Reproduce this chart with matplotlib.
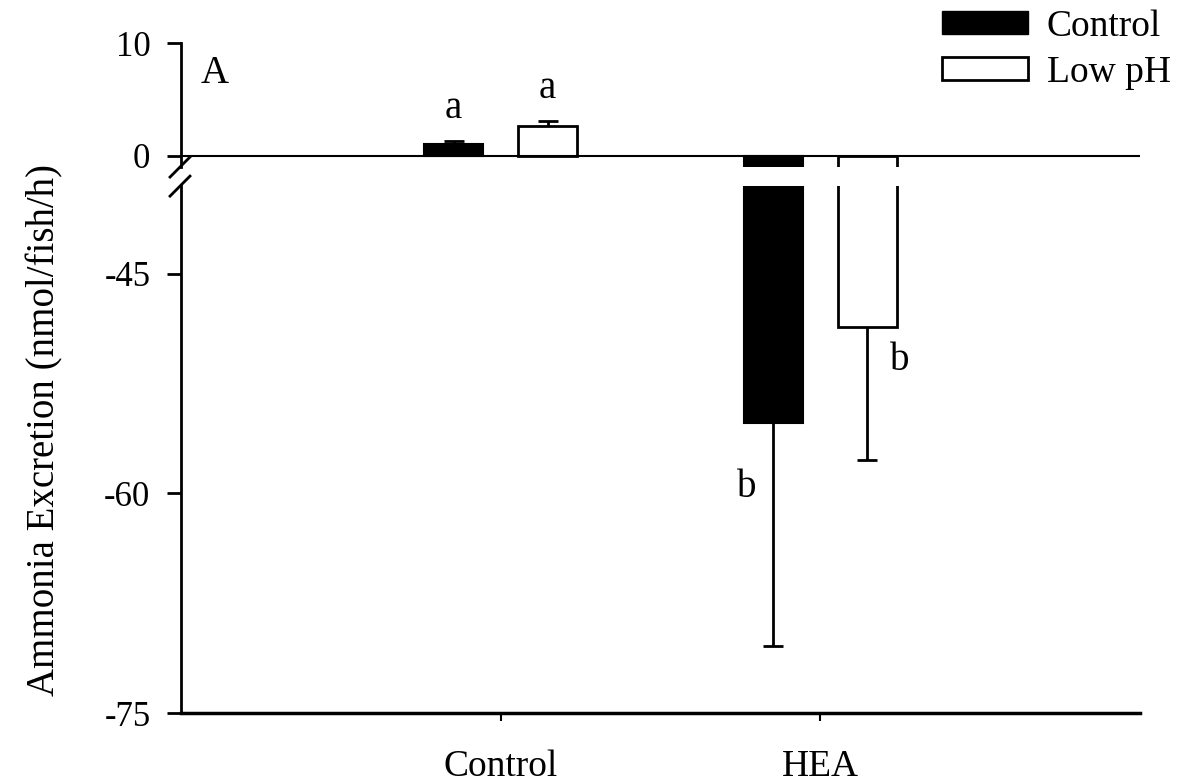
import matplotlib
matplotlib.use("Agg")
import matplotlib.pyplot as plt
from matplotlib.patches import Patch
import numpy as np

plt.rcParams['font.family'] = ['Liberation Serif', 'DejaVu Serif']
plt.rcParams['axes.unicode_minus'] = False

# data
groups = ['Control', 'HEA']
control_vals = [1.0, -55.2]
control_err = [0.3, 15.2]
lowph_vals = [2.65, -48.6]
lowph_err = [0.45, 9.1]
control_letters = ['a', 'b']
lowph_letters = ['a', 'b']

x = np.array([1, 2])
w = 0.186
off = 0.147

fig = plt.figure(figsize=(11.8, 7.82), dpi=100)
ax_top = fig.add_axes([0.1534, 0.7864, 0.8126, 0.1586])
ax_bot = fig.add_axes([0.1534, 0.0882, 0.8126, 0.6738])

for ax in (ax_top, ax_bot):
    ax.bar(x - off, control_vals, w, color='black', edgecolor='black', linewidth=1.5)
    ax.bar(x + off, lowph_vals, w, color='white', edgecolor='black', linewidth=2)
    for i in range(len(x)):
        # error bars drawn only away from zero
        for xv, v, e in [(x[i] - off, control_vals[i], control_err[i]),
                         (x[i] + off, lowph_vals[i], lowph_err[i])]:
            yerr = [[0], [e]] if v > 0 else [[e], [0]]
            eb = ax.errorbar(xv, v, yerr=yerr, fmt='none', ecolor='black',
                             elinewidth=2, capsize=7, capthick=2)
            caps = eb.lines[1]
            # hide the cap sitting on the bar end
            caps[0 if v > 0 else 1].set_visible(False)
    ax.set_xlim(0, 3)
    ax.spines['top'].set_visible(False)
    ax.spines['right'].set_visible(False)
    ax.spines['left'].set_linewidth(2)
    ax.tick_params(axis='y', direction='out', length=10, width=2, labelsize=25, pad=12)

ax_top.set_ylim(-1, 10)
ax_top.set_yticks([0, 10])
ax_top.spines['bottom'].set_visible(False)
ax_top.set_xticks([])
ax_top.axhline(0, color='black', linewidth=1.5)

ax_bot.set_ylim(-75, -39)
ax_bot.set_yticks([-75, -60, -45])
ax_bot.spines['bottom'].set_linewidth(2.5)
ax_bot.set_xticks(x)
ax_bot.set_xticklabels(groups)
ax_bot.tick_params(axis='x', direction='out', length=6, width=1.5, labelsize=27, pad=20)

# letters
ax_top.text(x[0] - off, 4.2, control_letters[0], ha='center', va='center', fontsize=28)
ax_top.text(x[0] + off, 6.0, lowph_letters[0], ha='center', va='center', fontsize=28)
ax_bot.text(x[1] - off - 0.084, -59.6, control_letters[1], ha='center', va='center', fontsize=28)
ax_bot.text(x[1] + 0.248, -50.9, lowph_letters[1], ha='center', va='center', fontsize=28)

ax_top.text(0.02, 0.9, 'A', transform=ax_top.transAxes, ha='left', va='top', fontsize=28)

# axis break marks
kw = dict(color='black', linewidth=2, clip_on=False, transform=fig.transFigure)
for y0 in (0.7864, 0.762):
    fig.add_artist(plt.Line2D([0.1441, 0.161], [y0 - 0.0128, y0 + 0.0128], **kw))

fig.text(0.038, 0.45, 'Ammonia Excretion (nmol/fish/h)', rotation=90,
         ha='center', va='center', fontsize=28)

handles = [Patch(facecolor='black', edgecolor='black'),
           Patch(facecolor='white', edgecolor='black', linewidth=2)]
fig.legend(handles, ['Control', 'Low pH'], loc='upper right',
           bbox_to_anchor=(1.008, 1.012), frameon=False, fontsize=27, borderpad=0,
           handlelength=2.3, handleheight=0.56, handletextpad=0.5, labelspacing=0.3)

fig.savefig('out.png', dpi=100)
